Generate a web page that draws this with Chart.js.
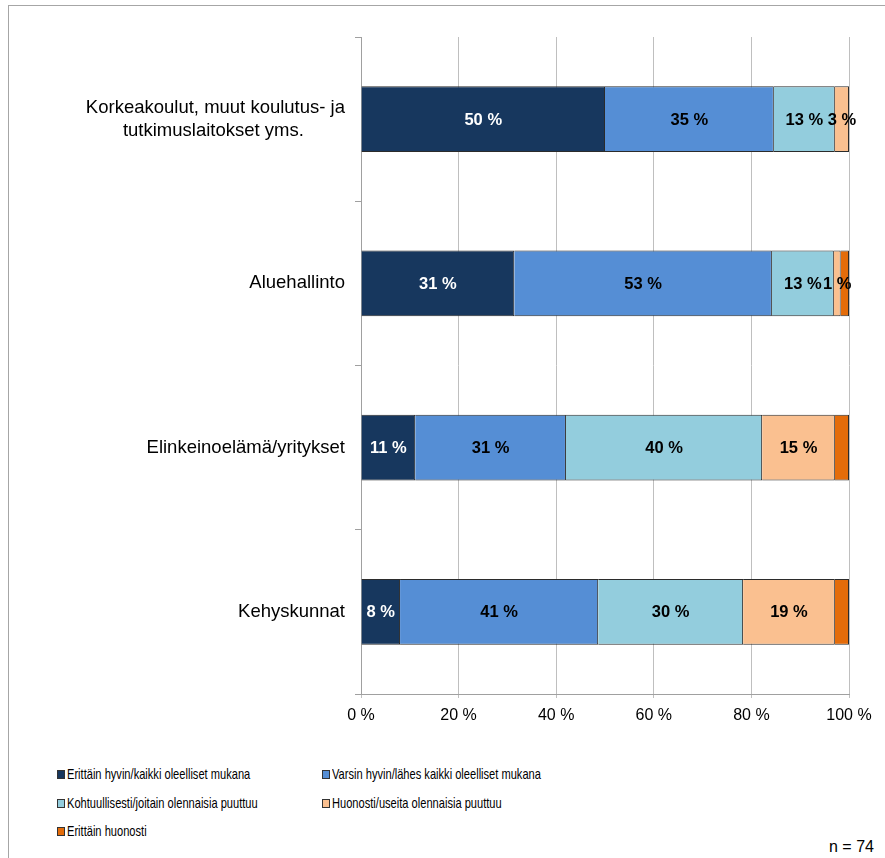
<!DOCTYPE html>
<html>
<head>
<meta charset="utf-8">
<script src="https://cdn.jsdelivr.net/npm/chart.js@4/dist/chart.umd.min.js"></script>
<style>
  body { margin: 0; background: #fff; font-family: "Liberation Sans", Arial, sans-serif; }
  #wrap { position: relative; width: 885px; height: 858px; overflow: hidden; }
  #frame { position: absolute; left: 8px; top: 5px; width: 900px; height: 900px; border: 1px solid #a6a6a6; }
  #myChart { position: absolute; left: 0; top: 0; }
  #legend { position: absolute; left: 57px; top: 765px; display: grid;
    grid-template-columns: 265px 300px; row-gap: 11px;
    font-size: 15px; line-height: 17.5px; color: #000; }
  #legend div { white-space: nowrap; }
  #legend span.txt { display: inline-block; transform: scaleX(0.74); transform-origin: left center; }
  #legend span.box { display: inline-block; width: 6px; height: 7px; border: 1px solid #333; margin-right: 2px; vertical-align: 0px; }
  #note { position: absolute; left: 829px; top: 838px; font-size: 16px; color: #000; }
</style>
</head>
<body>
<div id="wrap">
  <div id="frame"></div>
  <canvas id="myChart" width="885" height="740"></canvas>
  <div id="legend"></div>
  <div id="note">n = 74</div>
</div>
<script>
// categories (second line padded so it centres under the first)
const categories = [
    ['Korkeakoulut, muut koulutus- ja', 'tutkimuslaitokset yms.\u00a0\u00a0\u00a0\u00a0\u00a0\u00a0\u00a0\u00a0'],
    'Aluehallinto',
    'Elinkeinoelämä/yritykset',
    'Kehyskunnat'
];
const seriesNames = [
    'Erittäin hyvin/kaikki oleelliset mukana',
    'Varsin hyvin/lähes kaikki oleelliset mukana',
    'Kohtuullisesti/joitain olennaisia puuttuu',
    'Huonosti/useita olennaisia puuttuu',
    'Erittäin huonosti'
];
const erittainHyvin    = [50.0, 31.4, 11.1, 8.0];
const varsinHyvin      = [34.6, 52.8, 30.9, 40.6];
const kohtuullisesti   = [12.5, 12.7, 40.2, 29.7];
const huonosti         = [2.9, 1.4, 14.9, 18.8];
const erittainHuonosti = [0, 1.7, 2.9, 2.9];
const xTicks = [0, 20, 40, 60, 80, 100];

const colors = ['#17375E', '#558ED5', '#93CDDD', '#FAC090', '#E46C0A'];
const labelColors = ['#ffffff', '#000000', '#000000', '#000000', null];

function myLoadFunction() {
    const ctx = document.getElementById('myChart').getContext('2d');
    const allSeries = [erittainHyvin, varsinHyvin, kohtuullisesti, huonosti, erittainHuonosti];

    // draws the "NN %" text in the middle of each segment
    const segmentLabels = {
        id: 'segmentLabels',
        afterDatasetsDraw(chart) {
            const c = chart.ctx;
            c.save();
            c.font = 'bold 16.5px "Liberation Sans", Arial, sans-serif';
            c.textAlign = 'center';
            c.textBaseline = 'middle';
            chart.data.datasets.forEach((ds, i) => {
                if (!labelColors[i]) return;
                c.fillStyle = labelColors[i];
                chart.getDatasetMeta(i).data.forEach((bar, j) => {
                    const v = ds.data[j];
                    if (!v) return;
                    const p = bar.getProps(['x', 'y', 'base'], true);
                    c.fillText(Math.round(v) + ' %', (p.x + p.base) / 2, p.y + 1);
                });
            });
            c.restore();
        }
    };

    const myChartConfig = {
        type: 'bar',
        data: {
            labels: categories,
            datasets: allSeries.map((d, i) => ({
                label: seriesNames[i],
                data: d,
                backgroundColor: colors[i],
                borderColor: '#2b2b2b',
                borderWidth: 1,
                barPercentage: 0.4,
                categoryPercentage: 1
            }))
        },
        options: {
            indexAxis: 'y',
            responsive: false,
            animation: false,
            devicePixelRatio: 1,
            layout: { padding: { top: 37, right: 36, left: 0, bottom: 0 } },
            plugins: { legend: { display: false }, tooltip: { enabled: false } },
            scales: {
                x: {
                    stacked: true,
                    min: 0,
                    max: 100,
                    afterFit: s => { s.height = 46; },
                    afterBuildTicks: s => { s.ticks = xTicks.map(v => ({ value: v })); },
                    grid: { color: '#bfbfbf', tickLength: 4 },
                    border: { color: '#a0a0a0' },
                    ticks: {
                        padding: 8,
                        color: '#000',
                        font: { family: '"Liberation Sans", Arial, sans-serif', size: 16 },
                        callback: v => v + ' %'
                    }
                },
                y: {
                    stacked: true,
                    afterFit: s => { s.width = 361; },
                    grid: { offset: true, drawOnChartArea: false, tickLength: 6, color: '#a0a0a0' },
                    border: { color: '#a0a0a0' },
                    ticks: {
                        padding: 10,
                        color: '#000',
                        font: { family: '"Liberation Sans", Arial, sans-serif', size: 18.5, lineHeight: 1.22 }
                    }
                }
            }
        },
        plugins: [segmentLabels]
    };
    const myChart = new Chart(ctx, myChartConfig);

    // legend in two columns, built from the datasets
    const legend = document.getElementById('legend');
    myChart.data.datasets.forEach(ds => {
        const item = document.createElement('div');
        item.innerHTML = '<span class="box" style="background:' + ds.backgroundColor + '"></span>' +
            '<span class="txt">' + ds.label + '</span>';
        legend.appendChild(item);
    });
}

document.addEventListener('DOMContentLoaded', myLoadFunction);
</script>
</body>
</html>
